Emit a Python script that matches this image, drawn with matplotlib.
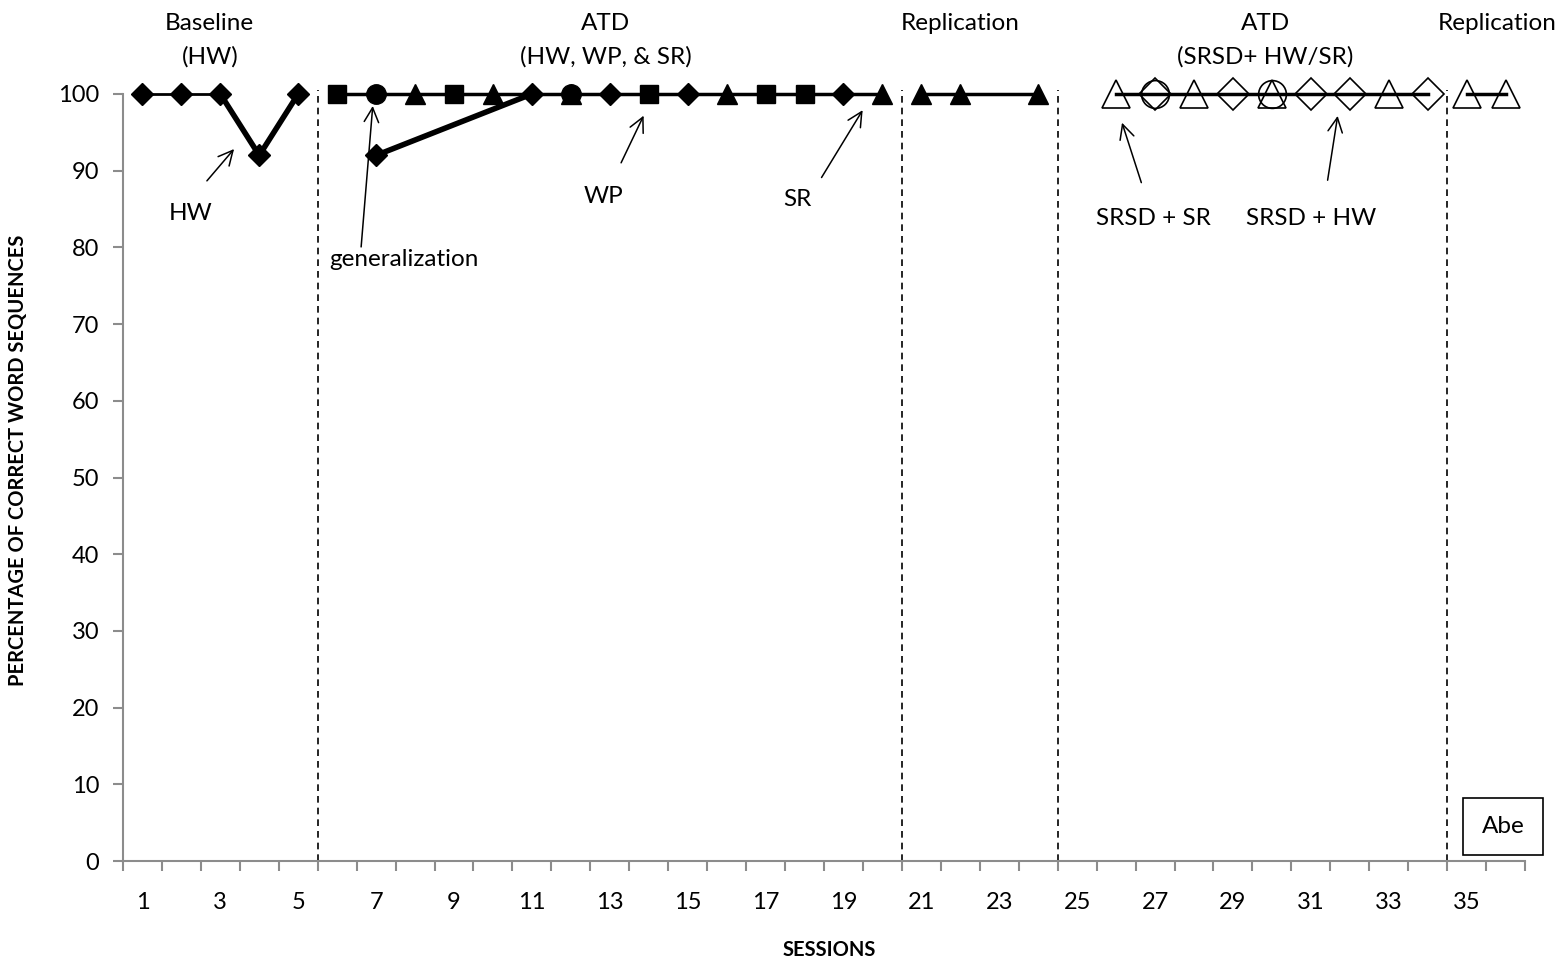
import numpy as np
import matplotlib.pyplot as plt
from matplotlib.patches import Rectangle
from matplotlib.ticker import FixedLocator, NullFormatter

plt.rcParams['font.family'] = ['Lato', 'DejaVu Sans']

# baseline (handwriting)
base_sessions = [1, 2, 3, 4, 5]
base_scores = [100, 100, 100, 92, 100]

# first alternating treatments phase
atd_hw_sessions = [7, 11, 13, 15, 19]
atd_hw_scores = [92, 100, 100, 100, 100]
atd_wp_sessions = [6, 9, 14, 17, 18]
atd_wp_scores = [100, 100, 100, 100, 100]
atd_sr_sessions = [8, 10, 12, 16, 20]
atd_sr_scores = [100, 100, 100, 100, 100]
gen_sessions = [7, 12]
gen_scores = [100, 100]

# replication of speech recognition
rep1_sessions = [21, 22, 24]
rep1_scores = [100, 100, 100]

# SRSD phase
srsd_sr_sessions = [26, 28, 30, 33]
srsd_sr_scores = [100, 100, 100, 100]
srsd_hw_sessions = [27, 29, 31, 32, 34]
srsd_hw_scores = [100, 100, 100, 100, 100]
srsd_gen_sessions = [27, 30]
srsd_gen_scores = [100, 100]
srsd_line_sessions = [26, 34]
srsd_line_scores = [100, 100]

rep2_sessions = [35, 36]
rep2_scores = [100, 100]

phase_changes = [5.5, 20.5, 24.5, 34.5]

fig = plt.figure(figsize=(15.68, 9.63), dpi=100)
ax = fig.add_axes([0.0784, 0.1059, 0.8942, 0.7965])

ms = 14
common = dict(clip_on=False, zorder=3)

# baseline
ax.plot(base_sessions[:3], base_scores[:3], color='black', lw=2, **common)
ax.plot(base_sessions[2:], base_scores[2:], color='black', lw=4, **common)
ax.plot(base_sessions, base_scores, 'D', color='black', ms=11, **common)

# ATD phase 1: one line running through all sessions at 100
atd_all = sorted(atd_wp_sessions + atd_sr_sessions + atd_hw_sessions[1:])
ax.plot([atd_all[0], atd_all[-1]], [100, 100], color='black', lw=2.5, **common)
ax.plot(atd_hw_sessions[:2], atd_hw_scores[:2], color='black', lw=4, **common)
ax.plot(atd_sr_sessions, atd_sr_scores, '^', color='black', ms=ms, ls='none', **common)
ax.plot(atd_wp_sessions, atd_wp_scores, 's', color='black', ms=13, ls='none', **common)
ax.plot(atd_hw_sessions, atd_hw_scores, 'D', color='black', ms=11, ls='none', **common)
ax.plot(gen_sessions, gen_scores, 'o', color='black', ms=ms, ls='none', **common)

# replication
ax.plot(rep1_sessions, rep1_scores, '^-', color='black', ms=ms, lw=2.5, **common)

# SRSD phase (open markers)
ax.plot(srsd_line_sessions, srsd_line_scores, color='black', lw=2.5, **common)
ax.plot(srsd_sr_sessions, srsd_sr_scores, '^', mfc='none', mec='black', mew=1.2,
        ms=20, ls='none', **common)
ax.plot(srsd_hw_sessions, srsd_hw_scores, 'D', mfc='none', mec='black', mew=1.2,
        ms=16, ls='none', **common)
ax.plot(srsd_gen_sessions, srsd_gen_scores, 'o', mfc='none', mec='black', mew=1.2,
        ms=20, ls='none', **common)

ax.plot(rep2_sessions, rep2_scores, color='black', lw=2.5, **common)
ax.plot(rep2_sessions, rep2_scores, '^', mfc='none', mec='black', mew=1.2,
        ms=20, ls='none', **common)

for xc in phase_changes:
    ax.plot([xc, xc], [0, 100.5], color='black', lw=1.2, ls=(0, (4, 3)),
            clip_on=False, zorder=2)

ax.set_xlim(0.5, 36.5)
ax.set_ylim(0, 100)

ax.xaxis.set_major_locator(FixedLocator(np.arange(0.5, 37, 1)))
ax.xaxis.set_major_formatter(NullFormatter())
ax.xaxis.set_minor_locator(FixedLocator(np.arange(1, 37, 2)))
ax.set_xticklabels([str(v) for v in range(1, 37, 2)], minor=True)
ax.tick_params(axis='x', which='major', length=7, width=1.5, color='#8c8c8c')
ax.tick_params(axis='x', which='minor', length=0, pad=22, labelsize=17)
ax.set_yticks(np.arange(0, 101, 10))
ax.tick_params(axis='y', length=7, width=1.5, color='#8c8c8c', labelsize=17, pad=10)

for side in ['top', 'right']:
    ax.spines[side].set_visible(False)
for side in ['left', 'bottom']:
    ax.spines[side].set_color('#8c8c8c')
    ax.spines[side].set_linewidth(1.5)

fig.text(0.529, 0.0135, 'SESSIONS', fontsize=14.5, fontweight='bold',
         ha='center', va='center')
fig.text(0.0115, 0.522, 'PERCENTAGE OF CORRECT WORD SEQUENCES', rotation=90,
         fontsize=14.5, fontweight='bold', ha='center', va='center')

# phase titles
phase_titles = [(2.73, 'Baseline\n(HW)'), (12.9, 'ATD\n(HW, WP, & SR)'),
                (21.99, 'Replication'), (29.83, 'ATD\n(SRSD+ HW/SR)'),
                (35.78, 'Replication')]
for xt, txt in phase_titles:
    ax.annotate(txt, xy=(xt, 100), xycoords='data', xytext=(0, 58),
                textcoords='offset points', ha='center', va='top',
                fontsize=17.5, linespacing=1.65, annotation_clip=False)

# arrow labels: text, arrow head, arrow tail, text position
arrow_kw = dict(arrowstyle='->', color='black', lw=1.1, mutation_scale=26)
notes = [('HW', (3.4, 93.1), (2.61, 88.4), (2.25, 84.4)),
         ('generalization', (6.92, 98.8), (6.61, 79.7), (7.72, 78.4)),
         ('WP', (13.9, 97.5), (13.26, 90.7), (12.83, 86.6)),
         ('SR', (19.53, 98.2), (18.4, 88.8), (17.83, 86.3)),
         ('SRSD + SR', (26.13, 96.6), (26.67, 88.1), (26.95, 83.8)),
         ('SRSD + HW', (31.7, 97.5), (31.42, 88.4), (31.0, 83.8))]
for txt, head, tail, tpos in notes:
    ax.annotate('', xy=head, xytext=tail, arrowprops=arrow_kw,
                annotation_clip=False)
    ax.text(tpos[0], tpos[1], txt, ha='center', va='center', fontsize=17.5)

# participant label
fig.add_artist(Rectangle((0.933, 0.1121), 0.051, 0.0592, transform=fig.transFigure,
                         fc='white', ec='black', lw=1.2, zorder=5))
fig.text(0.9585, 0.142, 'Abe', fontsize=17.5, ha='center', va='center', zorder=6)

fig.savefig('out.png', dpi=100)
